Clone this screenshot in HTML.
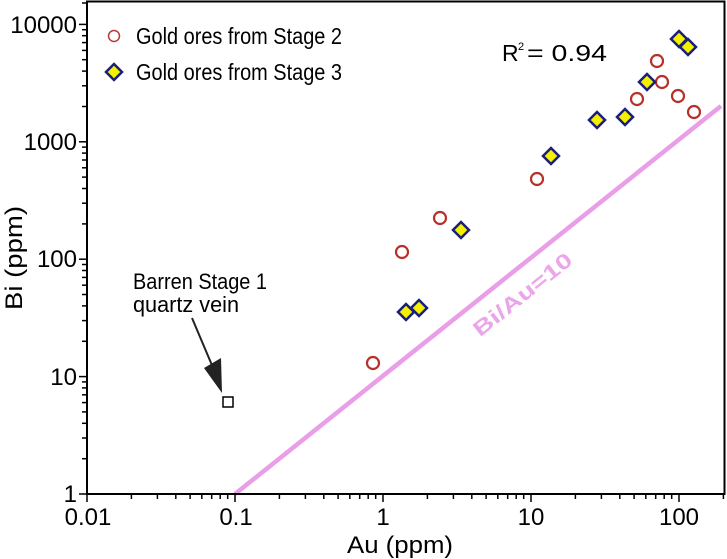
<!DOCTYPE html>
<html><head><meta charset="utf-8"><style>html,body{margin:0;padding:0;background:#fff}svg{display:block}</style></head><body>
<svg width="727" height="559" viewBox="0 0 727 559" xmlns="http://www.w3.org/2000/svg" font-family="'Liberation Sans', Arial, sans-serif">
<rect width="727" height="559" fill="#fff"/>
<g stroke="#000" stroke-width="1.5">
<line x1="87" y1="494" x2="87" y2="502"/><line x1="131.4" y1="494" x2="131.4" y2="499"/><line x1="157.4" y1="494" x2="157.4" y2="499"/><line x1="175.8" y1="494" x2="175.8" y2="499"/><line x1="190.1" y1="494" x2="190.1" y2="499"/><line x1="201.8" y1="494" x2="201.8" y2="499"/><line x1="211.7" y1="494" x2="211.7" y2="499"/><line x1="220.2" y1="494" x2="220.2" y2="499"/><line x1="227.7" y1="494" x2="227.7" y2="499"/>
<line x1="235" y1="494" x2="235" y2="502"/><line x1="279.4" y1="494" x2="279.4" y2="499"/><line x1="305.4" y1="494" x2="305.4" y2="499"/><line x1="323.8" y1="494" x2="323.8" y2="499"/><line x1="338.1" y1="494" x2="338.1" y2="499"/><line x1="349.8" y1="494" x2="349.8" y2="499"/><line x1="359.7" y1="494" x2="359.7" y2="499"/><line x1="368.2" y1="494" x2="368.2" y2="499"/><line x1="375.7" y1="494" x2="375.7" y2="499"/>
<line x1="383" y1="494" x2="383" y2="502"/><line x1="427.4" y1="494" x2="427.4" y2="499"/><line x1="453.4" y1="494" x2="453.4" y2="499"/><line x1="471.8" y1="494" x2="471.8" y2="499"/><line x1="486.1" y1="494" x2="486.1" y2="499"/><line x1="497.8" y1="494" x2="497.8" y2="499"/><line x1="507.7" y1="494" x2="507.7" y2="499"/><line x1="516.2" y1="494" x2="516.2" y2="499"/><line x1="523.7" y1="494" x2="523.7" y2="499"/>
<line x1="531" y1="494" x2="531" y2="502"/><line x1="575.4" y1="494" x2="575.4" y2="499"/><line x1="601.4" y1="494" x2="601.4" y2="499"/><line x1="619.8" y1="494" x2="619.8" y2="499"/><line x1="634.1" y1="494" x2="634.1" y2="499"/><line x1="645.8" y1="494" x2="645.8" y2="499"/><line x1="655.7" y1="494" x2="655.7" y2="499"/><line x1="664.2" y1="494" x2="664.2" y2="499"/><line x1="671.7" y1="494" x2="671.7" y2="499"/>
<line x1="679" y1="494" x2="679" y2="502"/><line x1="723.4" y1="494" x2="723.4" y2="499"/>
<line x1="79" y1="494" x2="87" y2="494"/><line x1="82" y1="458.7" x2="87" y2="458.7"/><line x1="82" y1="438" x2="87" y2="438"/><line x1="82" y1="423.3" x2="87" y2="423.3"/><line x1="82" y1="411.9" x2="87" y2="411.9"/><line x1="82" y1="402.6" x2="87" y2="402.6"/><line x1="82" y1="394.8" x2="87" y2="394.8"/><line x1="82" y1="387.9" x2="87" y2="387.9"/><line x1="82" y1="381.9" x2="87" y2="381.9"/>
<line x1="79" y1="376.6" x2="87" y2="376.6"/><line x1="82" y1="341.3" x2="87" y2="341.3"/><line x1="82" y1="320.6" x2="87" y2="320.6"/><line x1="82" y1="305.9" x2="87" y2="305.9"/><line x1="82" y1="294.5" x2="87" y2="294.5"/><line x1="82" y1="285.2" x2="87" y2="285.2"/><line x1="82" y1="277.4" x2="87" y2="277.4"/><line x1="82" y1="270.5" x2="87" y2="270.5"/><line x1="82" y1="264.5" x2="87" y2="264.5"/>
<line x1="79" y1="259.2" x2="87" y2="259.2"/><line x1="82" y1="223.9" x2="87" y2="223.9"/><line x1="82" y1="203.2" x2="87" y2="203.2"/><line x1="82" y1="188.5" x2="87" y2="188.5"/><line x1="82" y1="177.1" x2="87" y2="177.1"/><line x1="82" y1="167.8" x2="87" y2="167.8"/><line x1="82" y1="160" x2="87" y2="160"/><line x1="82" y1="153.1" x2="87" y2="153.1"/><line x1="82" y1="147.1" x2="87" y2="147.1"/>
<line x1="79" y1="141.8" x2="87" y2="141.8"/><line x1="82" y1="106.5" x2="87" y2="106.5"/><line x1="82" y1="85.8" x2="87" y2="85.8"/><line x1="82" y1="71.1" x2="87" y2="71.1"/><line x1="82" y1="59.7" x2="87" y2="59.7"/><line x1="82" y1="50.4" x2="87" y2="50.4"/><line x1="82" y1="42.6" x2="87" y2="42.6"/><line x1="82" y1="35.7" x2="87" y2="35.7"/><line x1="82" y1="29.7" x2="87" y2="29.7"/>
<line x1="79" y1="24.4" x2="87" y2="24.4"/><line x1="82" y1="3" x2="87" y2="3"/>
</g>
<line x1="235" y1="494" x2="721" y2="106" stroke="#ea9ee8" stroke-width="4.5"/>
<text x="527" y="300" transform="rotate(-38.5 527 300)" text-anchor="middle" font-size="21" font-weight="bold" fill="#eba6ea" textLength="120" lengthAdjust="spacingAndGlyphs">Bi/Au=10</text>
<rect x="87" y="1.5" width="637.5" height="492.5" fill="none" stroke="#000" stroke-width="2"/>
<g font-size="24" fill="#000" text-anchor="end">
<text x="77" y="33">10000</text><text x="77" y="150">1000</text><text x="77" y="267">100</text><text x="77" y="385">10</text><text x="77" y="502">1</text>
</g>
<g font-size="24" fill="#000" text-anchor="middle">
<text x="88" y="525">0.01</text><text x="236" y="525">0.1</text><text x="383" y="525">1</text><text x="531" y="525">10</text><text x="679" y="525">100</text>
<text x="400" y="553" textLength="106" lengthAdjust="spacingAndGlyphs">Au (ppm)</text>
<text x="0" y="0" transform="translate(22 258) rotate(-90)" textLength="104" lengthAdjust="spacingAndGlyphs">Bi (ppm)</text>
</g>
<circle cx="114" cy="36" r="5.5" fill="none" stroke="#b53a3a" stroke-width="1.5"/>
<polygon points="114,64 122,72 114,80 106,72" fill="#f5f000" stroke="#1a1f7a" stroke-width="2.5"/>
<text x="136" y="44" font-size="23" textLength="206" lengthAdjust="spacingAndGlyphs">Gold ores from Stage 2</text>
<text x="136" y="80" font-size="23" textLength="206" lengthAdjust="spacingAndGlyphs">Gold ores from Stage 3</text>
<text x="502" y="61" font-size="23">R</text><text x="518" y="50" font-size="11">2</text><text x="527" y="61" font-size="23" textLength="80" lengthAdjust="spacingAndGlyphs">= 0.94</text>
<text x="133" y="289" font-size="22" textLength="134" lengthAdjust="spacingAndGlyphs">Barren Stage 1</text>
<text x="133" y="312" font-size="22" textLength="106" lengthAdjust="spacingAndGlyphs">quartz vein</text>
<line x1="192" y1="318" x2="214" y2="370" stroke="#222" stroke-width="2"/>
<polygon points="204,368 222,393 221,358" fill="#222"/>
<rect x="223" y="397" width="10" height="10" fill="#fff" stroke="#000" stroke-width="1.5"/>
<g fill="none" stroke="#b8302a" stroke-width="2.2">
<circle cx="373" cy="363" r="6"/><circle cx="402" cy="252" r="6"/><circle cx="440" cy="218" r="6"/><circle cx="537" cy="179" r="6"/>
<circle cx="637" cy="99" r="6"/><circle cx="657" cy="61" r="6"/><circle cx="662" cy="82" r="6"/><circle cx="678" cy="96" r="6"/><circle cx="694" cy="112" r="6"/>
</g>
<g fill="#f5f000" stroke="#1a1f7a" stroke-width="2.5">
<polygon points="406,304 414,312 406,320 398,312"/>
<polygon points="419,300 427,308 419,316 411,308"/>
<polygon points="461,222 469,230 461,238 453,230"/>
<polygon points="551,148 559,156 551,164 543,156"/>
<polygon points="597,112 605,120 597,128 589,120"/>
<polygon points="625,109 633,117 625,125 617,117"/>
<polygon points="647,74 655,82 647,90 639,82"/>
<polygon points="679,31 687,39 679,47 671,39"/>
<polygon points="688,39 696,47 688,55 680,47"/>
</g>
</svg>
</body></html>
